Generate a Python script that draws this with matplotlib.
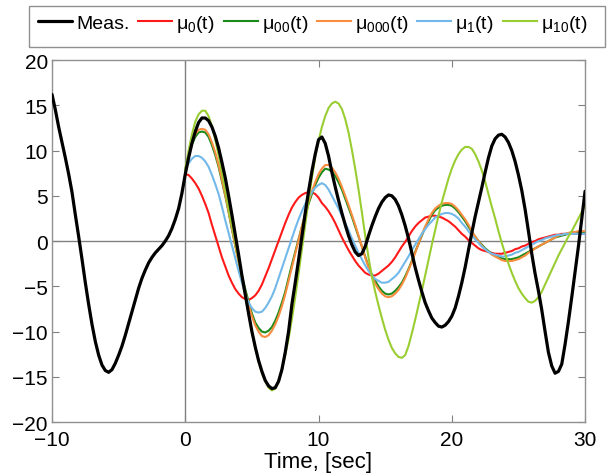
import numpy as np
import matplotlib
matplotlib.use("Agg")
import matplotlib.pyplot as plt
from matplotlib.patches import Rectangle

plt.rcParams['font.family'] = ['Liberation Sans', 'DejaVu Sans']
plt.rcParams['mathtext.default'] = 'regular'

# ---------------- data (0.25 s grid) ----------------
t_meas = np.arange(-10, 30.001, 0.25)
t_model = np.arange(0, 30.001, 0.25)

meas = [16.2, 14.5, 12.6, 10.9,
        9.2, 7.4, 5.4, 2.9,
        0.5, -2.0, -4.6, -7.0,
        -9.2, -11.1, -12.6, -13.7,
        -14.3, -14.5, -14.2, -13.5,
        -12.6, -11.6, -10.4, -9.1,
        -7.8, -6.5, -5.2, -4.1,
        -3.2, -2.4, -1.8, -1.3,
        -0.9, -0.5, 0.0, 0.6,
        1.4, 2.4, 3.6, 5.3,
        7.4, 9.2, 10.8, 12.1,
        13.1, 13.6, 13.6, 13.3,
        12.6, 11.6, 10.3, 8.7,
        7.0, 5.0, 2.9, 0.7,
        -1.5, -3.8, -5.9, -8.0,
        -10.0, -11.7, -13.2, -14.4,
        -15.4, -16.0, -16.3, -16.2,
        -15.5, -14.2, -12.3, -10.0,
        -7.0, -4.6, -2.1, 0.5,
        3.1, 5.5, 7.7, 9.6,
        11.2, 11.5, 10.8, 9.4,
        7.6, 6.0, 4.5, 3.1,
        1.8, 0.6, -0.4, -1.2,
        -1.6, -1.4, -0.6, 0.6,
        1.7, 2.7, 3.6, 4.3,
        4.8, 5.1, 5.0, 4.6,
        3.9, 2.9, 1.7, 0.3,
        -1.3, -2.9, -4.3, -5.6,
        -6.8, -7.7, -8.5, -9.0,
        -9.4, -9.5, -9.3, -8.9,
        -8.3, -7.4, -6.1, -4.6,
        -2.9, -1.0, 0.9, 2.7,
        4.3, 5.9, 7.6, 9.2,
        10.5, 11.3, 11.7, 11.8,
        11.5, 10.9, 10.0, 8.8,
        7.3, 5.6, 3.5, 1.1,
        -1.4, -3.6, -5.5, -7.6,
        -10.0, -12.3, -13.8, -14.6,
        -14.4, -13.6, -11.4, -8.9,
        -6.2, -3.4, -0.6, 2.4,
        5.5]

mu0 = [7.4, 7.3, 6.9, 6.4,
       5.8, 5.0, 4.1, 3.1,
       1.8, 0.6, -0.6, -1.8,
       -2.8, -3.8, -4.6, -5.3,
       -5.8, -6.2, -6.4, -6.5,
       -6.3, -6.0, -5.5, -4.8,
       -3.9, -3.0, -2.0, -1.0,
       0.0, 1.0, 2.0, 2.9,
       3.7, 4.3, 4.8, 5.1,
       5.3, 5.4, 5.4, 5.2,
       4.8, 4.2, 3.8, 3.3,
       2.7, 2.0, 1.2, 0.4,
       -0.3, -1.0, -1.6, -2.2,
       -2.7, -3.1, -3.5, -3.7,
       -3.8, -3.8, -3.6, -3.3,
       -3.0, -2.7, -2.3, -1.8,
       -1.2, -0.6, -0.1, 0.5,
       1.1, 1.6, 2.0, 2.3,
       2.6, 2.7, 2.8, 2.8,
       2.7, 2.6, 2.4, 2.2,
       1.9, 1.6, 1.2, 0.8,
       0.5, 0.1, -0.2, -0.5,
       -0.8, -1.0, -1.1, -1.2,
       -1.3, -1.4, -1.4, -1.4,
       -1.3, -1.2, -1.1, -0.9,
       -0.8, -0.6, -0.5, -0.3,
       -0.1, 0.0, 0.2, 0.3,
       0.4, 0.5, 0.6, 0.7,
       0.7, 0.8, 0.8, 0.8,
       0.8, 0.8, 0.8, 0.8,
       0.8]

mu00 = [7.9, 9.5, 10.7, 11.5,
        12.0, 12.1, 12.0, 11.5,
        10.6, 9.5, 8.2, 6.6,
        5.0, 3.2, 1.3, -0.5,
        -2.2, -3.8, -5.3, -6.7,
        -8.0, -9.0, -9.6, -10.0,
        -10.1, -9.9, -9.5, -8.8,
        -7.9, -6.8, -5.6, -4.1,
        -2.6, -1.2, 0.2, 1.6,
        2.9, 4.1, 5.2, 6.2,
        7.0, 7.6, 8.0, 7.9,
        7.7, 7.2, 6.5, 5.7,
        4.7, 3.7, 2.7, 1.6,
        0.5, -0.6, -1.7, -2.8,
        -3.7, -4.4, -5.0, -5.5,
        -5.8, -5.9, -5.8, -5.5,
        -5.1, -4.6, -3.9, -3.1,
        -2.2, -1.2, -0.3, 0.6,
        1.5, 2.2, 2.9, 3.4,
        3.7, 3.9, 4.0, 4.0,
        3.9, 3.6, 3.2, 2.7,
        2.2, 1.6, 1.0, 0.5,
        0.0, -0.4, -0.8, -1.1,
        -1.4, -1.6, -1.8, -1.9,
        -2.0, -2.0, -2.0, -1.9,
        -1.8, -1.6, -1.4, -1.2,
        -1.0, -0.8, -0.6, -0.4,
        -0.2, 0.0, 0.2, 0.4,
        0.5, 0.6, 0.7, 0.8,
        0.9, 0.9, 1.0, 1.0,
        1.0]

mu000 = [7.9, 9.6, 10.9, 11.8,
         12.3, 12.4, 12.3, 11.8,
         10.9, 9.8, 8.4, 6.8,
         5.1, 3.3, 1.4, -0.5,
         -2.3, -4.0, -5.6, -7.0,
         -8.3, -9.3, -10.0, -10.5,
         -10.6, -10.4, -9.9, -9.2,
         -8.3, -7.2, -5.9, -4.4,
         -2.9, -1.4, 0.1, 1.6,
         3.0, 4.3, 5.5, 6.5,
         7.4, 8.0, 8.4, 8.4,
         8.1, 7.6, 6.9, 6.0,
         5.0, 4.0, 2.9, 1.8,
         0.6, -0.6, -1.8, -2.9,
         -3.9, -4.7, -5.3, -5.8,
         -6.1, -6.2, -6.1, -5.8,
         -5.4, -4.8, -4.1, -3.2,
         -2.3, -1.3, -0.3, 0.7,
         1.6, 2.4, 3.1, 3.6,
         3.9, 4.1, 4.2, 4.2,
         4.1, 3.8, 3.4, 2.9,
         2.4, 1.8, 1.1, 0.5,
         0.0, -0.5, -0.9, -1.2,
         -1.5, -1.7, -1.9, -2.1,
         -2.2, -2.2, -2.2, -2.1,
         -2.0, -1.8, -1.6, -1.3,
         -1.1, -0.8, -0.6, -0.4,
         -0.2, 0.0, 0.2, 0.4,
         0.6, 0.7, 0.8, 0.9,
         1.0, 1.0, 1.1, 1.1,
         1.1]

mu1 = [7.9, 8.6, 9.1, 9.4,
       9.4, 9.2, 8.8, 8.2,
       7.3, 6.3, 5.2, 3.8,
       2.3, 0.9, -0.5, -1.9,
       -3.3, -4.6, -5.9, -6.8,
       -7.4, -7.8, -7.9, -7.8,
       -7.4, -6.8, -6.1, -5.2,
       -4.1, -3.0, -1.9, -0.8,
       0.3, 1.4, 2.4, 3.3,
       4.1, 4.8, 5.4, 5.9,
       6.2, 6.4, 6.2, 5.7,
       5.0, 4.3, 3.6, 2.8,
       2.0, 1.2, 0.3, -0.5,
       -1.3, -2.0, -2.7, -3.3,
       -3.8, -4.2, -4.4, -4.6,
       -4.6, -4.5, -4.2, -3.9,
       -3.5, -2.9, -2.3, -1.7,
       -1.0, -0.4, 0.2, 0.8,
       1.3, 1.8, 2.2, 2.6,
       2.8, 3.0, 3.1, 3.1,
       3.0, 2.8, 2.5, 2.0,
       1.6, 1.1, 0.6, 0.2,
       -0.2, -0.6, -0.9, -1.2,
       -1.4, -1.5, -1.6, -1.7,
       -1.7, -1.6, -1.5, -1.3,
       -1.2, -1.0, -0.8, -0.6,
       -0.4, -0.2, 0.0, 0.1,
       0.3, 0.4, 0.5, 0.6,
       0.7, 0.7, 0.8, 0.8,
       0.8, 0.8, 0.8, 0.8,
       0.8]

mu10 = [7.9, 10.0, 11.8, 13.2,
        14.0, 14.4, 14.4, 13.8,
        12.7, 11.2, 9.5, 7.6,
        5.6, 3.6, 1.7, -0.1,
        -2.0, -4.0, -6.0, -8.0,
        -10.0, -11.8, -13.3, -14.6,
        -15.5, -16.2, -16.5, -16.3,
        -15.5, -14.2, -12.6, -10.8,
        -8.6, -6.2, -3.6, -0.9,
        1.8, 4.5, 7.0, 9.3,
        11.1, 12.6, 13.8, 14.7,
        15.2, 15.4, 15.2, 14.6,
        13.5, 12.0, 10.1, 8.0,
        5.7, 3.2, 0.6, -1.8,
        -3.9, -5.6, -7.1, -8.5,
        -9.8, -10.9, -11.8, -12.4,
        -12.8, -12.9, -12.6, -11.6,
        -10.2, -8.7, -7.1, -5.5,
        -3.8, -2.1, -0.4, 1.2,
        2.8, 4.3, 5.6, 6.9,
        8.0, 8.9, 9.6, 10.1,
        10.4, 10.4, 10.2, 9.6,
        8.8, 7.8, 6.6, 5.2,
        3.8, 2.5, 1.1, -0.2,
        -1.4, -2.5, -3.5, -4.4,
        -5.2, -5.8, -6.3, -6.7,
        -6.8, -6.6, -6.2, -5.6,
        -4.8, -4.0, -3.2, -2.4,
        -1.6, -0.9, -0.2, 0.5,
        1.1, 1.8, 2.5, 3.2,
        3.9]

labels = ['Meas.', 'μ$_0$(t)', 'μ$_{00}$(t)', 'μ$_{000}$(t)', 'μ$_1$(t)', 'μ$_{10}$(t)']
colors = ['#000000', '#ff1a1a', '#1a8a1a', '#f98c3e', '#72b9ea', '#9acd32']
x_ticks = [-10, 0, 10, 20, 30]
y_ticks = [-20, -15, -10, -5, 0, 5, 10, 15, 20]

# ---------------- plot ----------------
fig = plt.figure(figsize=(6.12, 4.77), dpi=100)
ax = fig.add_axes([0.085, 0.113, 0.871, 0.759])

ax.axhline(0, color='#808080', lw=1.0, zorder=1)
ax.axvline(0, color='#808080', lw=1.0, zorder=1)

handles = []
h, = ax.plot(t_meas, meas, color=colors[0], lw=2.3, zorder=5,
             solid_joinstyle='round', solid_capstyle='round')
handles.append(h)
series = [mu0, mu00, mu000, mu1, mu10]
for s, c in zip(series, colors[1:]):
    h, = ax.plot(t_model, s, color=c, lw=1.5, zorder=3, solid_joinstyle='round')
    handles.append(h)

ax.set_xlim(-10, 30)
ax.set_ylim(-20, 20)
ax.set_xticks(x_ticks)
ax.set_yticks(y_ticks)
ax.tick_params(direction='in', length=5, width=0.8, color='#808080',
               top=True, right=True, labelsize=15, pad=3)
ax.tick_params(axis='x', pad=6)
for sp in ax.spines.values():
    sp.set_color('#909090')
    sp.set_linewidth(1.0)
ax.set_xlabel('Time, [sec]', fontsize=16, labelpad=1)

# legend box
fig.patches.append(Rectangle((0.047, 0.899), 0.942, 0.086, transform=fig.transFigure,
                             fill=False, edgecolor='#909090', lw=1.0))
fig.legend(handles, labels, loc='upper left', bbox_to_anchor=(0.050, 0.987),
           ncol=6, frameon=False, fontsize=14, handlelength=1.75,
           handletextpad=0.2, columnspacing=0.45, borderaxespad=0)

fig.savefig('out.png', dpi=100)
